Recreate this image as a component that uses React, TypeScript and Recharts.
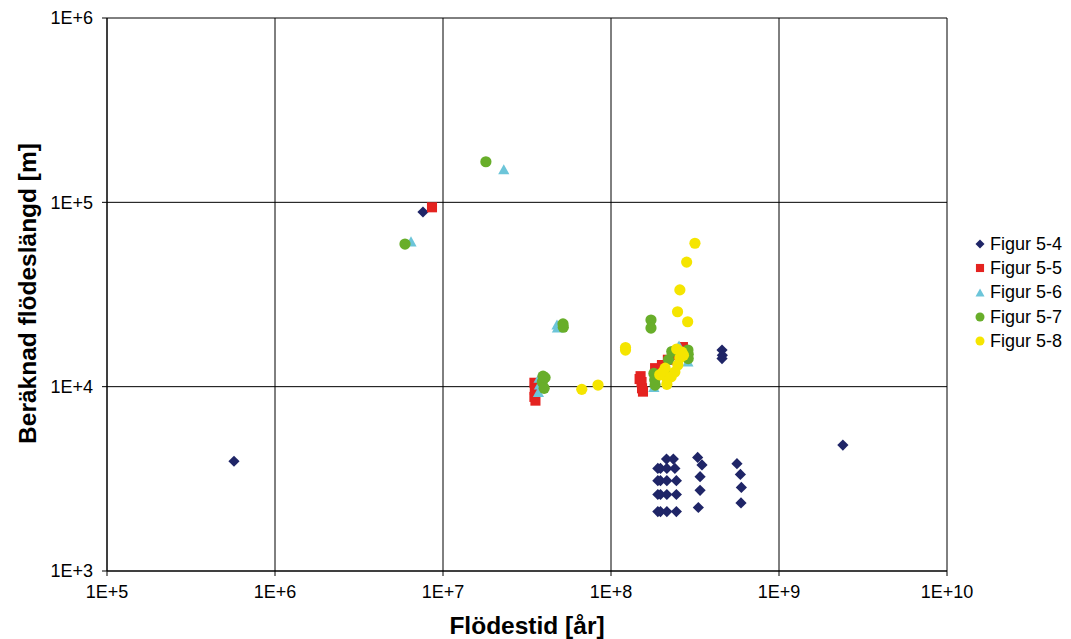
import React from 'react';
import { ScatterChart, Scatter, XAxis, YAxis, CartesianGrid, Legend, Label } from 'recharts';

const X_TICKS = [1e5, 1e6, 1e7, 1e8, 1e9, 1e10];
const Y_TICKS = [1e3, 1e4, 1e5, 1e6];

const fig54 = [
  { x: 5.7e5, y: 3940 }, { x: 7.6e6, y: 8.86e4 },
  { x: 4.58e8, y: 1.58e4 }, { x: 4.6e8, y: 1.48e4 }, { x: 4.58e8, y: 1.42e4 },
  { x: 2.4e9, y: 4820 },
  { x: 2.14e8, y: 4050 }, { x: 2.35e8, y: 4050 },
  { x: 1.9e8, y: 3600 }, { x: 1.97e8, y: 3600 }, { x: 2.15e8, y: 3600 }, { x: 2.4e8, y: 3600 },
  { x: 1.9e8, y: 3090 }, { x: 1.97e8, y: 3090 }, { x: 2.15e8, y: 3090 }, { x: 2.45e8, y: 3090 },
  { x: 1.9e8, y: 2600 }, { x: 1.97e8, y: 2600 }, { x: 2.15e8, y: 2600 }, { x: 2.45e8, y: 2600 },
  { x: 1.9e8, y: 2100 }, { x: 1.97e8, y: 2100 }, { x: 2.15e8, y: 2100 }, { x: 2.45e8, y: 2100 },
  { x: 3.28e8, y: 4130 }, { x: 3.48e8, y: 3760 }, { x: 3.39e8, y: 3250 }, { x: 3.39e8, y: 2740 }, { x: 3.31e8, y: 2210 },
  { x: 5.62e8, y: 3820 }, { x: 5.89e8, y: 3340 }, { x: 5.97e8, y: 2840 }, { x: 5.94e8, y: 2340 },
];

const fig55 = [
  { x: 8.6e6, y: 9.4e4 },
  { x: 3.5e7, y: 1.05e4 }, { x: 3.52e7, y: 9600 }, { x: 3.5e7, y: 8800 }, { x: 3.55e7, y: 8400 },
  { x: 1.5e8, y: 1.14e4 }, { x: 1.52e8, y: 1.06e4 }, { x: 1.53e8, y: 9800 }, { x: 1.55e8, y: 9400 }, { x: 1.48e8, y: 1.1e4 },
  { x: 1.83e8, y: 1.26e4 }, { x: 2.01e8, y: 1.31e4 }, { x: 2.18e8, y: 1.4e4 }, { x: 2.34e8, y: 1.48e4 },
  { x: 2.57e8, y: 1.58e4 }, { x: 2.68e8, y: 1.64e4 },
];

const fig56 = [
  { x: 2.3e7, y: 1.5e5 }, { x: 6.45e6, y: 6.1e4 },
  { x: 4.77e7, y: 2.16e4 }, { x: 4.8e7, y: 2.08e4 },
  { x: 3.73e7, y: 1.11e4 }, { x: 3.75e7, y: 1.02e4 }, { x: 3.7e7, y: 9300 },
  { x: 2.54e8, y: 1.66e4 }, { x: 2.87e8, y: 1.36e4 }, { x: 1.8e8, y: 9900 },
];

const fig57 = [
  { x: 1.8e7, y: 1.66e5 }, { x: 5.94e6, y: 5.94e4 },
  { x: 5.18e7, y: 2.19e4 }, { x: 5.2e7, y: 2.1e4 },
  { x: 3.94e7, y: 1.14e4 }, { x: 3.9e7, y: 1.06e4 }, { x: 4.0e7, y: 9800 }, { x: 4.05e7, y: 1.12e4 },
  { x: 1.73e8, y: 2.3e4 }, { x: 1.73e8, y: 2.08e4 },
  { x: 1.8e8, y: 1.18e4 }, { x: 1.82e8, y: 1.09e4 }, { x: 1.83e8, y: 1.02e4 },
  { x: 2.2e8, y: 1.4e4 }, { x: 2.3e8, y: 1.55e4 }, { x: 2.87e8, y: 1.58e4 },
  { x: 2.88e8, y: 1.5e4 }, { x: 2.88e8, y: 1.42e4 }, { x: 2.1e8, y: 1.2e4 },
];

const fig58 = [
  { x: 3.16e8, y: 6.0e4 }, { x: 2.82e8, y: 4.74e4 }, { x: 2.57e8, y: 3.35e4 },
  { x: 2.49e8, y: 2.55e4 }, { x: 2.86e8, y: 2.25e4 },
  { x: 1.22e8, y: 1.63e4 }, { x: 1.22e8, y: 1.58e4 },
  { x: 8.37e7, y: 1.02e4 }, { x: 6.7e7, y: 9670 },
  { x: 2.04e8, y: 1.2e4 }, { x: 2.15e8, y: 1.11e4 }, { x: 2.28e8, y: 1.13e4 }, { x: 2.4e8, y: 1.2e4 },
  { x: 2.5e8, y: 1.31e4 }, { x: 2.57e8, y: 1.43e4 }, { x: 2.64e8, y: 1.54e4 }, { x: 2.46e8, y: 1.6e4 },
  { x: 2.7e8, y: 1.48e4 }, { x: 1.95e8, y: 1.16e4 }, { x: 2.1e8, y: 1.26e4 }, { x: 2.15e8, y: 1.03e4 },
];

const SERIES_NAMES = ['Figur 5-4', 'Figur 5-5', 'Figur 5-6', 'Figur 5-7', 'Figur 5-8'];
const SERIES_DATA = [fig54, fig55, fig56, fig57, fig58];
const COLORS = ['#1F2567', '#E42320', '#6CC5D9', '#68AE2A', '#F5E500'];
const SHAPES = ['diamond', 'square', 'triangle', 'circle', 'circle'];

const FONT = '"Liberation Sans", Arial, sans-serif';

function drawMark(kind: string, color: string, cx: number, cy: number, s: number) {
  if (kind === 'diamond') {
    return <polygon points={`${cx},${cy - s} ${cx + s},${cy} ${cx},${cy + s} ${cx - s},${cy}`} fill={color} />;
  }
  if (kind === 'square') {
    const h = s * 0.9;
    return <rect x={cx - h} y={cy - h} width={2 * h} height={2 * h} fill={color} />;
  }
  if (kind === 'triangle') {
    return <polygon points={`${cx},${cy - s} ${cx + s},${cy + s * 0.8} ${cx - s},${cy + s * 0.8}`} fill={color} />;
  }
  return <circle cx={cx} cy={cy} r={s} fill={color} />;
}

function makeShape(kind: string, color: string) {
  return (props: any) => {
    const { cx, cy } = props;
    if (cx == null || cy == null) return <g />;
    return drawMark(kind, color, cx, cy, 5.6);
  };
}

function renderLegend() {
  return (
    <div style={{ fontFamily: FONT, fontSize: 18, color: '#000' }}>
      {SERIES_NAMES.map((n, i) => (
        <div key={n} style={{ display: 'flex', alignItems: 'center', height: 24.3 }}>
          <svg width={14} height={14} style={{ marginRight: 3 }}>
            {drawMark(SHAPES[i], COLORS[i], 7, 7, 4.5)}
          </svg>
          <span>{n}</span>
        </div>
      ))}
    </div>
  );
}

const fmt = (v: number) => '1E+' + Math.round(Math.log10(v));

function YTitle(props: any) {
  const vb = props.viewBox || { x: 0, y: 0, width: 0, height: 0 };
  const x = vb.x + 27;
  const y = vb.y + vb.height / 2 - 1;
  return (
    <text x={x} y={y} transform={`rotate(-90 ${x} ${y})`} textAnchor="middle" dominantBaseline="central"
      style={{ fontFamily: FONT, fontSize: 24.5, fontWeight: 'bold', fill: '#000' }}>
      Beräknad flödeslängd [m]
    </text>
  );
}

function XTitle(props: any) {
  const vb = props.viewBox || { x: 0, y: 0, width: 0, height: 0 };
  const x = vb.x + vb.width / 2;
  const y = vb.y + 54;
  return (
    <text x={x} y={y} textAnchor="middle" dominantBaseline="central"
      style={{ fontFamily: FONT, fontSize: 24.5, fontWeight: 'bold', fill: '#000' }}>
      Flödestid [år]
    </text>
  );
}

export default function App() {
  return (
    <div style={{ position: 'absolute', left: 0, top: 0, width: 1071, height: 639, background: '#fff' }}>
      <ScatterChart width={1071} height={639} margin={{ top: 18, right: 24, bottom: 0, left: 0 }}>
        <CartesianGrid stroke="#000" strokeWidth={1} horizontalValues={Y_TICKS} verticalValues={X_TICKS} />
        <XAxis type="number" dataKey="x" scale="log" domain={[1e5, 1e10]} ticks={X_TICKS} allowDataOverflow
          tickFormatter={fmt} height={68} tickSize={5} tickMargin={9} interval={0}
          axisLine={{ stroke: '#000' }} tickLine={{ stroke: '#000' }}
          tick={{ fontSize: 18, fill: '#000', fontFamily: FONT }}>
          <Label content={<XTitle />} />
        </XAxis>
        <YAxis type="number" dataKey="y" scale="log" domain={[1e3, 1e6]} ticks={Y_TICKS} allowDataOverflow
          tickFormatter={fmt} width={107} tickSize={5} tickMargin={9} interval={0}
          axisLine={{ stroke: '#000' }} tickLine={{ stroke: '#000' }}
          tick={{ fontSize: 18, fill: '#000', fontFamily: FONT }}>
          <Label content={<YTitle />} />
        </YAxis>
        <Legend layout="vertical" verticalAlign="top" align="right" content={renderLegend}
          wrapperStyle={{ position: 'absolute', left: 973, top: 232, width: 100 }} />
        {SERIES_NAMES.map((n, i) => (
          <Scatter key={n} name={n} data={SERIES_DATA[i]} fill={COLORS[i]}
            shape={makeShape(SHAPES[i], COLORS[i])} isAnimationActive={false} />
        ))}
      </ScatterChart>
    </div>
  );
}
